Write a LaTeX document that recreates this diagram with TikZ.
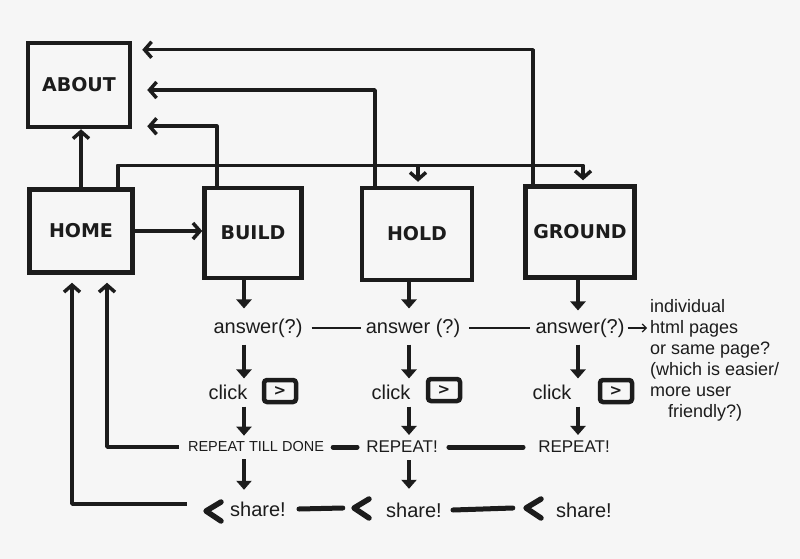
\documentclass[tikz,border=0pt]{standalone}
\usepackage{fontspec}
\setmainfont{Liberation Sans}
\newfontfamily\boxfont{DejaVu Sans}
\usetikzlibrary{arrows.meta}
\definecolor{ink}{HTML}{1C1C1C}
\definecolor{paper}{HTML}{F6F6F6}
\begin{document}
\begin{tikzpicture}[x=1pt,y=-1pt,
  page/.style={draw=ink, line width=4.5pt, inner sep=0pt, text=ink,
    font=\boxfont\bfseries\fontsize{19}{19}\selectfont},
  link/.style={draw=ink, line width=3.5pt, line join=round,
    -{Straight Barb[length=7pt,width=16pt]}},
  down/.style={draw=ink, line width=4pt, -{Triangle[length=9pt,width=15pt]}},
  hand/.style={text=ink, inner sep=1pt, font=\fontsize{20}{20}\selectfont},
  caps/.style={text=ink, inner sep=1pt, font=\fontsize{14.5}{14.5}\selectfont},
  bigcaps/.style={text=ink, inner sep=1pt, font=\fontsize{17}{17}\selectfont},
  thinbar/.style={draw=ink, line width=1.2pt},
  thickbar/.style={draw=ink, line width=5pt, line cap=round},
  btn/.style={draw=ink, line width=4.5pt, rounded corners=3pt, minimum width=32pt,
    minimum height=22pt, inner sep=0pt, text=ink,
    font=\boxfont\bfseries\fontsize{15}{15}\selectfont},
  chev/.style={draw=ink, line width=5.5pt, line cap=round, line join=round},
  spot/.style={inner sep=0pt, minimum size=18pt}
]
\fill[paper] (0,0) rectangle (800,559);
\useasboundingbox (0,0) rectangle (800,559);

% boxes
\node[page, minimum width=102pt, minimum height=84pt] (about) at (79,85) {ABOUT};
\node[page, minimum width=103pt, minimum height=83pt] (home) at (81,231) {HOME};
\node[page, minimum width=97pt, minimum height=90pt] (build) at (253,233) {BUILD};
\node[page, minimum width=110pt, minimum height=92pt] (hold) at (417,234) {HOLD};
\node[page, minimum width=109pt, minimum height=91pt] (ground) at (580,232) {GROUND};

% top connectors
\draw[link] (home.north) -- (home.north |- about.south);
\draw[link] (home.east) -- (home.east -| build.west);
\draw[link] ([xshift=-36pt]build.north) |- ([xshift=15pt,yshift=3pt]about.south east);
\draw[link] ([xshift=-42pt]hold.north) |- ([xshift=15pt,yshift=-5pt]about.east);
\draw[link] ([xshift=-47pt]ground.north) |- ([xshift=10pt,yshift=-9pt]about.north east);
\draw[link] ([xshift=37pt]home.north) -- ++(0,-22) -| ([xshift=1pt,yshift=4pt]hold.north);
\draw[link] ([xshift=37pt]home.north) -- ++(0,-22) -| ([xshift=3pt,yshift=4pt]ground.north);

% column positions
\coordinate (c1) at (244,0);
\coordinate (c2) at (409,0);
\coordinate (c3) at (578,0);

% answers
\node[hand] (ans1) at (258,328) {answer(?)};
\node[hand] (ans2) at (413,328) {answer (?)};
\node[hand] (ans3) at (580,328) {answer(?)};
\draw[thinbar] ([xshift=8pt]ans1.east) -- ([xshift=-4pt]ans2.west);
\draw[thinbar] ([xshift=8pt]ans2.east) -- ([xshift=-4pt]ans3.west);

% note
\node[text=ink, anchor=north west, align=left, inner sep=0pt,
  font=\fontsize{18}{21}\selectfont] (note) at (650,299)
  {individual\\html pages\\or same page?\\(which is easier/\\more user\\\hspace*{18pt}friendly?)};
\draw[draw=ink, line width=1.2pt, -{Straight Barb[length=4pt,width=8pt]}]
  ([xshift=2pt]ans3.east) -- ([xshift=-3pt]ans3.east -| note.west);

% box -> answer arrows
\draw[down] (build.south -| c1) -- ([yshift=9pt]ans1.north -| c1);
\draw[down] (hold.south -| c2) -- ([yshift=9pt]ans2.north -| c2);
\draw[down] (ground.south -| c3) -- ([yshift=7pt]ans3.north -| c3);

% clicks
\node[hand] (click1) at (228,392) {click};
\node[btn] (btn1) at (280,391) {>};
\node[hand] (click2) at (391,392) {click};
\node[btn] (btn2) at (444,390) {>};
\node[hand] (click3) at (552,392) {click};
\node[btn] (btn3) at (616,391) {>};

\draw[down] ([yshift=-6pt]ans1.south -| c1) -- ([yshift=5pt]click1.north -| c1);
\draw[down] ([yshift=-6pt]ans2.south -| c2) -- ([yshift=5pt]click2.north -| c2);
\draw[down] ([yshift=-6pt]ans3.south -| c3) -- ([yshift=5pt]click3.north -| c3);

% repeat
\node[caps] (rep1) at (256,447) {REPEAT TILL DONE};
\node[bigcaps] (rep2) at (402,447) {REPEAT!};
\node[bigcaps] (rep3) at (574,447) {REPEAT!};
\draw[thickbar] ([xshift=8pt]rep1.east) -- ([xshift=-8pt]rep2.west);
\draw[thickbar] ([xshift=10pt]rep2.east) -- ([xshift=-14pt]rep3.west);

\draw[down] ([yshift=-6pt]click1.south -| c1) -- ([yshift=5pt]rep1.north -| c1);
\draw[down] ([yshift=-6pt]click2.south -| c2) -- ([yshift=5pt]rep2.north -| c2);
\draw[down] ([yshift=-6pt]click3.south -| c3) -- ([yshift=5pt]rep3.north -| c3);

% share
\node[spot] (ch1) at (214,511) {};
\node[hand, anchor=west] (sh1) at (229,509) {share!};
\node[spot] (ch2) at (362,508) {};
\node[hand, anchor=west] (sh2) at (385,510) {share!};
\node[spot] (ch3) at (534,508) {};
\node[hand, anchor=west] (sh3) at (555,510) {share!};
\foreach \c in {ch1,ch2,ch3}
  \draw[chev] ([xshift=7pt,yshift=9pt]\c.center) -- ([xshift=-8pt]\c.center)
     -- ([xshift=7pt,yshift=-10pt]\c.center);
\draw[thickbar] ([xshift=12pt]sh1.east) -- ([xshift=-10pt]ch2.west);
\draw[thickbar] ([xshift=10pt]sh2.east) -- ([xshift=-12pt]ch3.west);

\draw[down] ([yshift=-6pt]rep1.south -| c1) -- ([yshift=12pt]ch1.north -| c1);
\draw[down] ([yshift=-6pt]rep2.south -| c2) -- ([yshift=10pt]ch2.north -| c2);

% return lines to HOME
\draw[link, shorten <=8pt] (rep1.west) -| ([xshift=26pt,yshift=-8pt]home.south);
\draw[link] ([xshift=-18pt,yshift=7pt]ch1.west) -| ([xshift=-9pt,yshift=-8pt]home.south);
\end{tikzpicture}
\end{document}
